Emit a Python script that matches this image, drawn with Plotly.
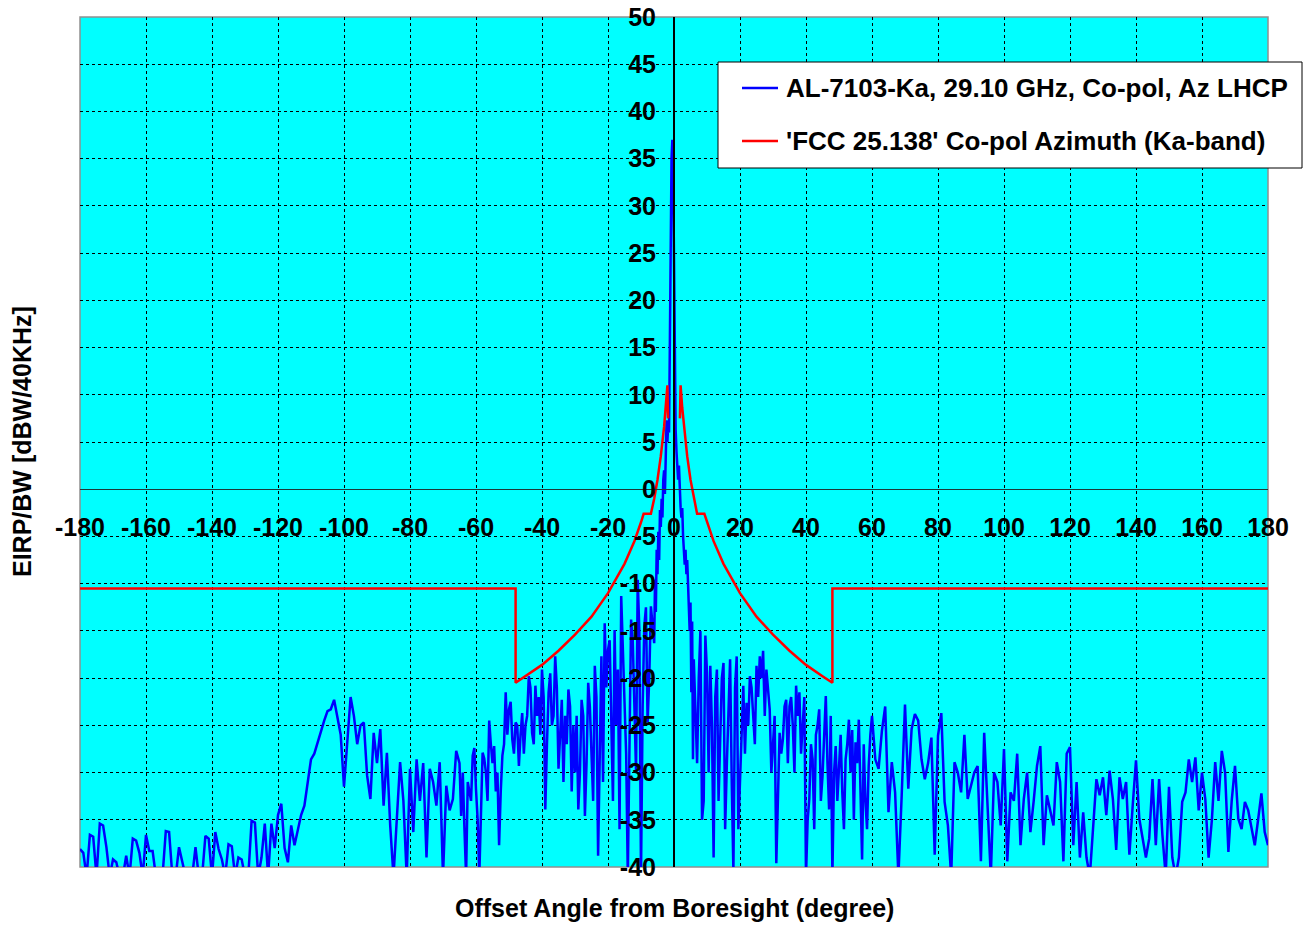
import plotly.graph_objects as go

# measured co-pol azimuth pattern, EIRP density in dBW/40kHz
# values below -40 are clipped by the axis (written as -41)
neg_angles = list(range(-180, -6))
neg_eirp = [
    -38.1, -38.5, -41, -36.6, -36.8, -41, -35.4, -35.6, -37.9, -41,
    -39.2, -39.5, -41, -41, -38.8, -41, -37.0, -37.2, -38.5, -41,
    -36.6, -38.3, -38.3, -41, -41, -41, -36.2, -36.3, -41, -41,
    -37.9, -39.5, -41, -41, -41, -37.9, -41, -41, -36.7, -37.0,
    -41, -36.3, -38.1, -39.2, -41, -37.6, -37.8, -41, -39.0, -39.2,
    -41, -41, -35.1, -35.3, -41, -39.0, -35.4, -41, -35.4, -38.0,
    -34.5, -33.3, -38.0, -39.5, -35.6, -37.7, -36.0, -34.5, -33.5, -31.0,
    -28.6, -28.0, -26.8, -25.5, -24.5, -23.5, -23.3, -22.3, -24.0, -26.0,
    -31.5, -26.8, -22.0, -24.0, -27.0, -25.0, -24.7, -30.3, -32.8, -25.8,
    -29.0, -25.4, -33.5, -27.9, -35.6, -41, -35.0, -28.9, -33.0, -41,
    -29.6, -36.3, -28.6, -33.0, -29.0, -39.0, -29.6, -31.0, -33.5, -28.9,
    -41, -31.4, -34.0, -32.8, -27.7, -29.0, -30.0, -41, -32.1, -28.2,
    -31.8, -41, -27.9, -30.0, -24.5, -29.0, -32.0, -37.7, -28.2, -21.5,
    -23.3, -26.5, -24.7, -29.3, -23.7, -25.0, -19.8, -25.8, -20.8, -22.0,
    -19.1, -33.9, -21.5, -25.0, -17.7, -29.6, -22.3, -24.0, -21.2, -32.0,
    -30.0, -33.9, -22.3, -34.6, -20.5, -28.6, -18.7, -38.8, -17.7, -14.2,
    -17.0, -26.5, -14.9, -19.1, -11.3, -23.0, -41, -13.8, -22.3, -9.6,
    -41, -14.5, -24.7, -12.4,
]

# extra half-degree samples in the dense near-in sidelobe region
neg_half_angles = [a + 0.5 for a in range(-65, -7)]
neg_half_eirp = [
    -34.6, -36.0, -31.0, -33.0, -27.4, -35.0, -33.0, -28.5, -33.0, -27.0,
    -27.2, -30.0, -32.0, -27.0, -26.0, -22.5, -28.0, -25.0, -26.0, -28.0,
    -24.0, -21.0, -27.0, -24.0, -26.0, -22.0, -27.0, -19.5, -24.0, -21.0,
    -26.0, -31.0, -27.0, -23.0, -25.0, -24.0, -30.0, -24.0, -29.0, -23.0,
    -33.0, -22.0, -27.0, -31.0, -21.0, -16.0, -33.0, -25.0, -36.0, -17.0,
    -28.0, -26.0, -16.0, -30.0, -15.0, -23.0, -12.5, -20.0,
]

core_angles = [i / 4 for i in range(-24, 25)]
core_eirp = [
    -16.3, -9.6, -13.0, -6.4, -9.0, -4.5, -7.5, -2.2, -4.0, -1.0, -3.0, 1.0,
    2.0, -0.5, 4.0, 7.3, 5.0, 7.0, 6.0, 16.0, 32.4, 35.0, 37.0, 33.0,
    24.6,
    12.0, 6.3, 4.0, 2.8, 1.0, 2.5, -1.0, -1.9, -3.0, -2.0, -5.0, -6.4,
    -8.0, -6.4, -9.0, -7.5, -10.0, -11.7, -15.0, -12.0, -21.5, -14.0, -28.6, -18.0,
]

pos_half_angles = [a + 0.5 for a in range(7, 60)]
pos_half_eirp = [
    -20.0, -35.0, -15.5, -30.0, -25.0, -22.0, -33.0, -20.0, -36.0, -22.0,
    -31.0, -21.0, -36.0, -24.0, -28.0, -25.0, -21.0, -27.0, -22.0, -20.0,
    -24.0, -21.0, -30.0, -24.0, -31.0, -28.0, -23.0, -29.0, -22.0, -30.0,
    -24.0, -28.0, -22.0, -35.0, -27.0, -36.0, -25.0, -33.0, -26.0, -29.0,
    -24.0, -30.0, -33.0, -26.0, -36.0, -27.0, -30.0, -35.0, -29.0, -31.0,
    -27.0, -36.0, -26.0,
]

pos_angles = list(range(7, 181))
pos_eirp = [
    -29.0, -15.0, -33.0, -19.4, -18.7, -39.0, -19.1, -26.0, -18.4, -29.3,
    -18.0, -40.5, -17.7, -30.4, -20.8, -22.6, -19.8, -23.7, -18.7, -17.7,
    -17.1, -19.1, -23.3, -27.2, -39.6, -25.8, -26.5, -22.3, -23.0, -25.0,
    -20.8, -21.5, -25.0, -41, -32.8, -28.6, -26.0, -23.3, -30.4, -21.9,
    -33.9, -41, -27.2, -29.0, -32.1, -28.6, -24.4, -25.5, -26.8, -24.4,
    -39.2, -33.0, -29.3, -24.0, -28.6, -29.6, -25.6, -23.0, -34.2, -28.9,
    -32.1, -41, -32.4, -22.8, -31.7, -25.4, -23.8, -24.5, -28.6, -30.7,
    -29.0, -26.3, -38.7, -26.1, -23.7, -33.1, -35.6, -41, -28.9, -30.0,
    -32.1, -26.0, -32.8, -31.4, -30.0, -29.3, -39.4, -25.8, -32.8, -41,
    -30.0, -31.0, -35.6, -27.5, -39.4, -32.1, -33.0, -28.0, -37.7, -32.8,
    -30.0, -36.3, -33.0, -29.3, -27.2, -37.7, -32.4, -34.0, -35.6, -28.9,
    -31.0, -39.4, -28.0, -27.3, -37.7, -31.0, -39.0, -34.2, -39.0, -41,
    -35.2, -30.7, -32.4, -30.5, -34.5, -29.8, -32.8, -38.2, -30.5, -32.8,
    -31.0, -38.7, -33.5, -28.7, -34.9, -37.1, -39.0, -37.0, -30.7, -37.7,
    -30.7, -36.6, -41, -31.5, -39.0, -41, -39.0, -33.1, -32.1, -28.6,
    -31.0, -28.4, -34.0, -30.0, -32.8, -39.0, -35.0, -28.9, -33.0, -27.7,
    -30.0, -38.4, -33.0, -29.3, -34.9, -36.0, -33.1, -34.0, -36.0, -37.7,
    -35.0, -32.2, -36.3, -37.7,
]

# FCC 25.138 co-pol azimuth mask (Ka-band)
mask_deg = [-180, -48, -48, -45, -40, -35, -30, -25, -20, -15, -12, -10, -9.2, -7,
            -6, -5, -4, -3, -2.5, -2, -1.8, None, 1.8, 2, 2.5, 3, 4, 5, 6, 7,
            9.2, 10, 12, 15, 20, 25, 30, 35, 40, 45, 48, 48, 180]
mask_db = [-10.5, -10.5, -20.5, -19.8, -18.6, -17.1, -15.4, -13.5, -11.0, -7.9, -5.5, -3.5, -2.6, -2.6,
           -1.0, 1.0, 3.5, 6.6, 8.6, 11.0, 7.5, None, 7.5, 11.0, 8.6, 6.6, 3.5, 1.0, -1.0, -2.6,
           -2.6, -3.5, -5.5, -7.9, -11.0, -13.5, -15.4, -17.1, -18.6, -19.8, -20.5, -10.5, -10.5]

x_ticks = list(range(-180, 181, 20))
x_labels = [str(v) for v in x_ticks]
y_ticks = list(range(-40, 51, 5))
y_labels = [str(v) for v in y_ticks]

series_names = ['AL-7103-Ka, 29.10 GHz, Co-pol, Az LHCP',
                "'FCC 25.138' Co-pol Azimuth (Ka-band)"]
series_colors = ['#0000FF', '#FF0000']

# merge all measured samples and order them by angle
samples = sorted(
    list(zip(neg_angles, neg_eirp)) + list(zip(neg_half_angles, neg_half_eirp))
    + list(zip(core_angles, core_eirp))
    + list(zip(pos_half_angles, pos_half_eirp)) + list(zip(pos_angles, pos_eirp))
)
angles = [s[0] for s in samples]
eirp = [s[1] for s in samples]

# plot area in pixels: x 80..1268, y 17..867
def px(x):
    return (x - 80) / 1188

def py(y):
    return (867 - y) / 850

fig = go.Figure()
fig.add_trace(go.Scatter(
    x=angles, y=eirp, mode='lines', name=series_names[0],
    line=dict(color=series_colors[0], width=2.5),
))
fig.add_trace(go.Scatter(
    x=mask_deg, y=mask_db, mode='lines', name=series_names[1],
    line=dict(color=series_colors[1], width=2.5),
    connectgaps=False,
))

bold = dict(family='Arial, Liberation Sans, sans-serif', size=25, color='black', weight='bold')
legend_font = dict(bold, size=26)

shapes = [
    dict(type='rect', xref='paper', yref='paper', x0=0, x1=1, y0=0, y1=1,
         line=dict(color='#909090', width=1.5), layer='between'),
    # legend box
    dict(type='rect', xref='paper', yref='paper', x0=px(718), x1=px(1302), y0=py(168), y1=py(62),
         line=dict(color='black', width=1), fillcolor='white', layer='above'),
]
annotations = [
    dict(text='Offset Angle from Boresight (degree)', xref='paper', yref='paper',
         x=0.5, y=py(908), xanchor='center', yanchor='middle', showarrow=False, font=bold),
    dict(text='EIRP/BW [dBW/40KHz]', xref='paper', yref='paper',
         x=px(22), y=0.5, xanchor='center', yanchor='middle', textangle=-90,
         showarrow=False, font=bold),
]
for i, (name, color) in enumerate(zip(series_names, series_colors)):
    row_y = py(88 + 53 * i)
    shapes.append(dict(type='line', xref='paper', yref='paper', x0=px(742), x1=px(778),
                       y0=row_y, y1=row_y, line=dict(color=color, width=2.5), layer='above'))
    annotations.append(dict(text=name, xref='paper', yref='paper', x=px(784), y=row_y,
                            xanchor='left', yanchor='middle', showarrow=False, font=legend_font))

fig.update_layout(
    width=1304, height=926,
    margin=dict(l=80, r=36, t=17, b=59, autoexpand=False),
    paper_bgcolor='white',
    plot_bgcolor='#00FFFF',
    font=bold,
    showlegend=False,
    xaxis=dict(
        range=[-180, 180], tickvals=x_ticks, ticktext=x_labels, tickfont=bold,
        showgrid=True, gridcolor='black', griddash='3px,3px', gridwidth=1,
        zeroline=False, showline=True, linecolor='#1a3a3a', linewidth=1,
        anchor='free', position=40 / 90, automargin=False, ticklabeloverflow='allow',
        ticks='outside', ticklen=16, tickcolor='rgba(0,0,0,0)',
    ),
    yaxis=dict(
        range=[-40, 50], tickvals=y_ticks, ticktext=y_labels, tickfont=bold,
        showgrid=True, gridcolor='black', griddash='3px,3px', gridwidth=1,
        zeroline=False, showline=True, linecolor='black', linewidth=2,
        anchor='free', position=0.5, automargin=False, ticklabeloverflow='allow',
        ticks='outside', ticklen=12, tickcolor='rgba(0,0,0,0)',
    ),
    shapes=shapes,
    annotations=annotations,
)

# drop the default page margin so the figure fills the window exactly
fig.write_html("out.html", config={'displayModeBar': False},
               post_script="document.body.style.margin = '0';")
